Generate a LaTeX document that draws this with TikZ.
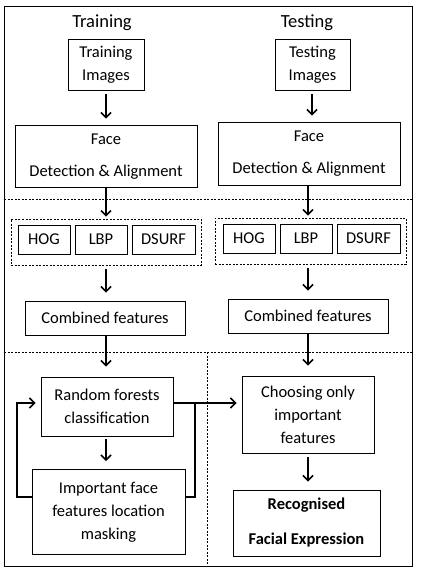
\documentclass[tikz,border=0pt]{standalone}
\usepackage{fontspec}
\setmainfont{Carlito}
\usetikzlibrary{arrows.meta}
\begin{document}
\begin{tikzpicture}[x=1pt,y=-1pt,
  box/.style={draw,line width=0.8pt,inner sep=0pt,align=center,font=\fontsize{16.5}{23}\selectfont},
  grp/.style={draw,dashed,dash pattern=on 2pt off 1.5pt,line width=0.6pt,inner sep=0pt},
  dline/.style={dash pattern=on 2pt off 1.5pt,line width=0.6pt},
  arr/.style={line width=1.6pt,-{Straight Barb[length=5pt,width=10pt]}},
  conn/.style={line width=1.6pt},
  ttl/.style={font=\fontsize{18.5}{22}\selectfont}]
\useasboundingbox (0,0) rectangle (421,574);
\draw[line width=0.8pt] (4,6) rectangle (412,566);
\draw[dline] (4,199) -- (412,199);
\draw[dline] (4,352) -- (412,352);
\draw[dline] (207,352) -- (207,566);

\node[ttl] (ttr) at (102,23) {Training};
\node[ttl] (tte) at (307,23) {Testing};

\node[box,minimum width=76,minimum height=51] (TI) at (106,64.5) {Training\\Images};
\node[box,minimum width=75,minimum height=51] (TE) at (312.5,64.5) {Testing\\Images};
\node[box,minimum width=182,minimum height=62,font=\fontsize{16.5}{32}\selectfont,text depth=2pt] (FL) at (106,156) {Face\\Detection \& Alignment};
\node[box,minimum width=182,minimum height=63,font=\fontsize{16.5}{32}\selectfont,text depth=2pt] (FR) at (309,153.5) {Face\\Detection \& Alignment};

\node[grp,minimum width=190,minimum height=46] (GL) at (106,242) {};
\node[box,minimum width=52,minimum height=29] (HL) at (44,239.5) {HOG};
\node[box,minimum width=52,minimum height=29] (LL) at (101,239.5) {LBP};
\node[box,minimum width=63,minimum height=29] (DL) at (163.5,239.5) {DSURF};
\node[grp,minimum width=191,minimum height=46] (GR) at (310.5,241) {};
\node[box,minimum width=52,minimum height=29] (HR) at (249,238.5) {HOG};
\node[box,minimum width=52,minimum height=29] (LR) at (306,238.5) {LBP};
\node[box,minimum width=63,minimum height=29] (DR) at (368.5,238.5) {DSURF};

\node[box,minimum width=160,minimum height=34] (CL) at (105,318) {Combined features};
\node[box,minimum width=160,minimum height=34] (CR) at (308,316) {Combined features};

\node[box,minimum width=132,minimum height=59] (RF) at (107,406.5) {Random forests\\classification};
\node[box,minimum width=132,minimum height=77] (CH) at (308,414.5) {Choosing only\\important\\features};
\node[box,minimum width=153,minimum height=85] (IM) at (108.5,512) {Important face\\features location\\masking};
\node[box,minimum width=147,minimum height=66,font=\bfseries\fontsize{16.5}{35}\selectfont] (RE) at (306.5,523) {Recognised\\Facial Expression};

\coordinate (ax) at (106,0);
\coordinate (bx) at (308,0);
\draw[arr,shorten >=6pt,shorten <=4pt] (ax |- TI.south) -- (ax |- FL.north);
\draw[arr,shorten >=6pt,shorten <=4pt] (TE.south -| 312,0) -- (312,0 |- FR.north);
\draw[arr,shorten >=2pt] (ax |- FL.south) -- (ax |- GL.north);
\draw[arr,shorten >=2pt] (bx |- FR.south) -- (bx |- GR.north);
\draw[arr,shorten >=8pt,shorten <=4pt] (ax |- GL.south) -- (ax |- CL.north);
\draw[arr,shorten >=8pt,shorten <=4pt] (bx |- GR.south) -- (bx |- CR.north);
\draw[arr,shorten >=10pt] (ax |- CL.south) -- (ax |- RF.north);
\draw[arr,shorten >=10pt] (bx |- CR.south) -- (bx |- CH.north);
\draw[arr,shorten >=8pt,shorten <=3pt] (ax |- RF.south) -- (ax |- IM.north);
\draw[arr,shorten >=8pt,shorten <=4pt] (bx |- CH.south) -- (bx |- RE.north);

\coordinate (lp) at (17,497);
\coordinate (rp) at (195,497);
\coordinate (ly) at (0,403);
\draw[arr,shorten >=5pt] (IM.west |- lp) -- (lp) -- (lp |- ly) -- (RF.west |- ly);
\draw[arr,shorten >=5pt] (RF.east |- ly) -- (CH.west |- ly);
\draw[conn] (IM.east |- rp) -- (rp) -- (rp |- ly);
\end{tikzpicture}
\end{document}
